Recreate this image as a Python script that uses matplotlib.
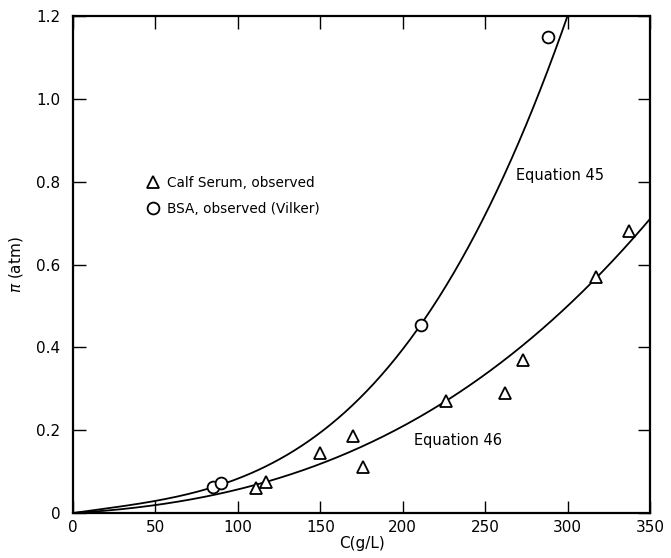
import numpy as np
import matplotlib
matplotlib.use("Agg")
import matplotlib.pyplot as plt

# Observed osmotic pressure data
calf_c = [111, 117, 150, 170, 176, 226, 262, 273, 317, 337]
calf_pi = [0.060, 0.075, 0.145, 0.185, 0.110, 0.270, 0.290, 0.370, 0.570, 0.680]
bsa_c = [85, 90, 211, 288]
bsa_pi = [0.063, 0.073, 0.455, 1.150]

# Virial-type fits: pi = a*u + b*u^2 + c*u^3, with u = C / 100 (g/L)
eq45_coef = [0.0561, -0.0169, 0.04386]
eq46_coef = [0.0234, 0.0265, 0.00708]

x_ticks = [0, 50, 100, 150, 200, 250, 300, 350]
y_ticks = [0, 0.2, 0.4, 0.6, 0.8, 1.0, 1.2]
y_tick_labels = ["0", "0.2", "0.4", "0.6", "0.8", "1.0", "1.2"]


def virial(c, coef):
    u = np.asarray(c) / 100.0
    return coef[0] * u + coef[1] * u ** 2 + coef[2] * u ** 3


plt.rcParams["font.family"] = ["DejaVu Sans"]
fig = plt.figure(figsize=(6.71, 5.58), dpi=100)
ax = fig.add_axes([0.1088, 0.0806, 0.8599, 0.8907])

c = np.linspace(0, 350, 400)
ax.plot(c, virial(c, eq45_coef), color="black", lw=1.3, zorder=2)
ax.plot(c, virial(c, eq46_coef), color="black", lw=1.3, zorder=2)

ax.plot(calf_c, calf_pi, linestyle="none", marker="^", markersize=9,
        markerfacecolor="white", markeredgecolor="black", markeredgewidth=1.3,
        zorder=3, label="Calf Serum, observed")
ax.plot(bsa_c, bsa_pi, linestyle="none", marker="o", markersize=8.5,
        markerfacecolor="white", markeredgecolor="black", markeredgewidth=1.3,
        zorder=3, label="BSA, observed (Vilker)")

ax.text(269, 0.814, "Equation 45", fontsize=10.5, va="center", ha="left")
ax.text(207, 0.176, "Equation 46", fontsize=10.5, va="center", ha="left")

leg = ax.legend(loc="upper left", bbox_to_anchor=(0.115, 0.689), frameon=False,
                fontsize=9.8, handletextpad=0.4, labelspacing=0.85,
                handlelength=1.2, borderaxespad=0)

ax.set_xlim(0, 350)
ax.set_ylim(0, 1.2)
ax.set_xticks(x_ticks)
ax.set_yticks(y_ticks)
ax.set_yticklabels(y_tick_labels)
ax.tick_params(direction="in", length=9, width=1.0, top=True, right=True,
               labelsize=11)
ax.tick_params(axis="y", pad=9)
ax.tick_params(axis="x", pad=5)
for s in ax.spines.values():
    s.set_linewidth(1.6)

ax.set_xlabel("C(g/L)", fontsize=11, labelpad=1)
ax.set_ylabel(r"$\pi$ (atm)", fontsize=11, labelpad=8)

fig.savefig("out.png", dpi=100)
